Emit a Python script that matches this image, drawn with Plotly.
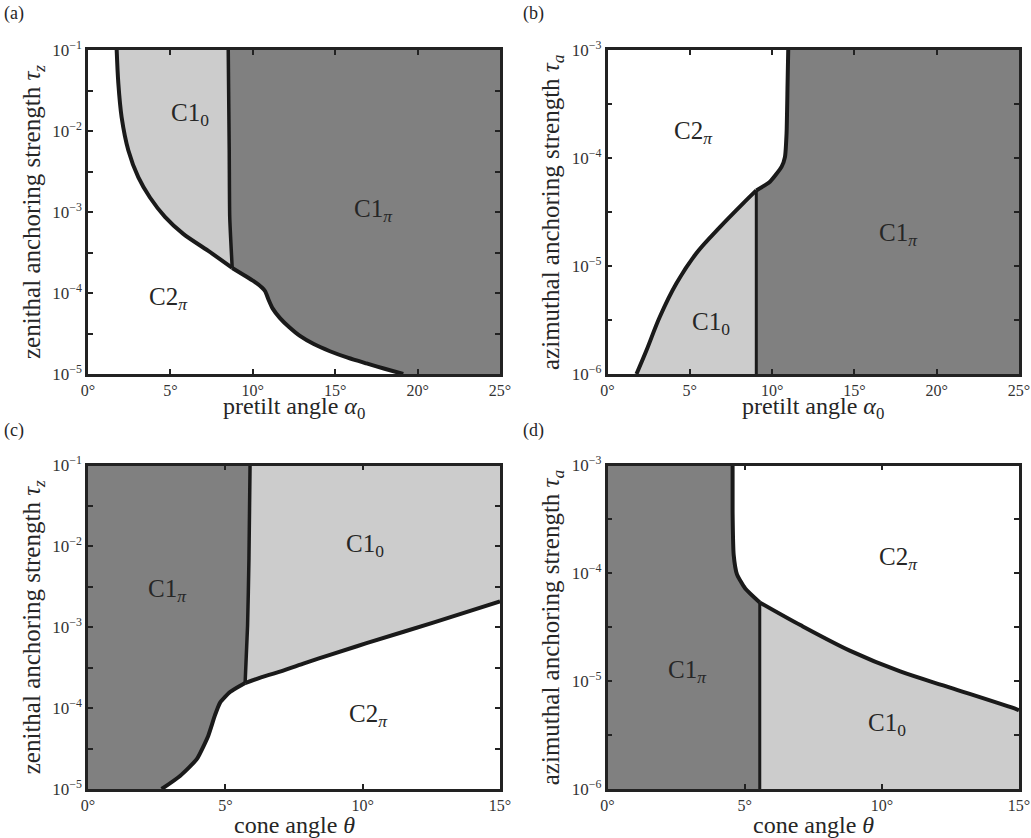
import plotly.graph_objects as go

# ---------------- data ----------------
# Panel (a): pretilt angle vs zenithal anchoring strength
a_c2_c10_x = [1.74, 1.84, 2.04, 2.45, 3.05, 3.76, 4.67, 5.78, 7.30, 8.75]
a_c2_c10_y = [1.0e-1, 3.89e-2, 1.48e-2, 5.75e-3, 2.69e-3, 1.51e-3, 8.71e-4, 5.37e-4, 3.31e-4, 2.04e-4]
a_c10_c1p_x = [8.51, 8.57, 8.60, 8.75]
a_c10_c1p_y = [1.0e-1, 5.75e-3, 8.71e-4, 2.04e-4]
a_c2_c1p_x = [8.75, 10.03, 10.55, 10.75, 10.95, 11.20, 11.65, 12.20, 12.86, 13.70, 14.68, 15.80,
              16.90, 18.00, 19.13]
a_c2_c1p_y = [2.04e-4, 1.41e-4, 1.17e-4, 1.05e-4, 8.32e-5, 6.46e-5, 4.90e-5, 3.80e-5, 2.95e-5,
              2.34e-5, 1.91e-5, 1.58e-5, 1.35e-5, 1.16e-5, 1.0e-5]

# Panel (b): pretilt angle vs azimuthal anchoring strength
b_c2_c10_x = [1.76, 2.37, 3.18, 4.19, 5.41, 6.83, 8.24, 9.04]
b_c2_c10_y = [1.0e-6, 1.66e-6, 3.39e-6, 6.92e-6, 1.32e-5, 2.29e-5, 3.80e-5, 5.01e-5]
b_c2_c1p_x = [9.04, 9.87, 10.58, 10.78, 10.88, 10.94, 10.98]
b_c2_c1p_y = [5.01e-5, 6.03e-5, 8.32e-5, 1.02e-4, 1.70e-4, 4.90e-4, 1.0e-3]
b_c10_c1p_x = [9.04, 9.04]
b_c10_c1p_y = [5.01e-5, 1.0e-6]

# Panel (c): cone angle vs zenithal anchoring strength
c_c1p_c10_x = [5.90, 5.86, 5.81, 5.72]
c_c1p_c10_y = [1.0e-1, 7.08e-3, 1.05e-3, 2.04e-4]
c_c1p_c2_x = [2.68, 3.35, 3.96, 4.38, 4.62, 4.81, 5.17, 5.72]
c_c1p_c2_y = [1.0e-5, 1.45e-5, 2.34e-5, 4.57e-5, 8.13e-5, 1.17e-4, 1.58e-4, 2.04e-4]
c_c10_c2_x = [5.72, 6.30, 6.87, 7.84, 8.81, 10.14, 12.57, 15.0]
c_c10_c2_y = [2.04e-4, 2.40e-4, 2.75e-4, 3.56e-4, 4.56e-4, 6.35e-4, 1.14e-3, 2.09e-3]

# Panel (d): cone angle vs azimuthal anchoring strength
d_c1p_c2_x = [4.56, 4.56, 4.60, 4.72, 5.02, 5.55]
d_c1p_c2_y = [1.0e-3, 3.72e-4, 1.48e-4, 9.77e-5, 7.24e-5, 5.37e-5]
d_c10_c2_x = [5.55, 7.03, 8.85, 10.67, 12.49, 14.90, 15.0]
d_c10_c2_y = [5.37e-5, 3.31e-5, 1.91e-5, 1.23e-5, 8.71e-6, 5.50e-6, 5.37e-6]
d_c1p_c10_x = [5.55, 5.55]
d_c1p_c10_y = [5.37e-5, 1.0e-6]

# axis extents
a_xmax, c_xmax = 25, 15
tz_range = [1e-5, 1e-1]
ta_range = [1e-6, 1e-3]

# region labels: (panel, text, x, log10 y)
labels = [
    ("a", "C1<sub>0</sub>", 6.2, -1.80),
    ("a", "C1<sub><i>π</i></sub>", 17.3, -2.98),
    ("a", "C2<sub><i>π</i></sub>", 4.9, -4.07),
    ("b", "C2<sub><i>π</i></sub>", 5.2, -3.76),
    ("b", "C1<sub><i>π</i></sub>", 17.7, -4.71),
    ("b", "C1<sub>0</sub>", 6.3, -5.53),
    ("c", "C1<sub><i>π</i></sub>", 2.9, -2.55),
    ("c", "C1<sub>0</sub>", 10.1, -1.99),
    ("c", "C2<sub><i>π</i></sub>", 10.2, -4.09),
    ("d", "C2<sub><i>π</i></sub>", 10.6, -3.86),
    ("d", "C1<sub><i>π</i></sub>", 2.9, -4.91),
    ("d", "C1<sub>0</sub>", 10.2, -5.40),
]

# ---------------- styling ----------------
DARK = "#808080"
LIGHT = "#cccccc"
LINE = "#1a1a1a"
FONT = "Liberation Serif"
TXT = "#262626"

axes = {"a": ("x", "y"), "b": ("x2", "y2"), "c": ("x3", "y3"), "d": ("x4", "y4")}

fig = go.Figure()


def fill(panel, xs, ys, color):
    xa, ya = axes[panel]
    fig.add_trace(go.Scatter(x=xs, y=ys, mode="lines", fill="toself", fillcolor=color,
                             line=dict(width=0, color=color), hoverinfo="skip",
                             showlegend=False, xaxis=xa, yaxis=ya))


def line(panel, xs, ys, w=4, sm=0.5):
    xa, ya = axes[panel]
    fig.add_trace(go.Scatter(x=xs, y=ys, mode="lines",
                             line=dict(width=w, color=LINE, shape="spline", smoothing=sm),
                             hoverinfo="skip", showlegend=False, xaxis=xa, yaxis=ya))


# (a)
fill("a", a_c2_c10_x + a_c10_c1p_x[::-1], a_c2_c10_y + a_c10_c1p_y[::-1], LIGHT)
fill("a", a_c10_c1p_x + a_c2_c1p_x + [a_xmax, a_xmax],
     a_c10_c1p_y + a_c2_c1p_y + [tz_range[0], tz_range[1]], DARK)
line("a", a_c2_c10_x, a_c2_c10_y, sm=0.9)
line("a", a_c10_c1p_x, a_c10_c1p_y, 3.5)
line("a", a_c2_c1p_x, a_c2_c1p_y)

# (b)
fill("b", b_c2_c10_x + b_c10_c1p_x[::-1][:1], b_c2_c10_y + b_c10_c1p_y[::-1][:1], LIGHT)
fill("b", b_c10_c1p_x[::-1] + b_c2_c1p_x + [a_xmax, a_xmax],
     b_c10_c1p_y[::-1] + b_c2_c1p_y + [ta_range[1], ta_range[0]], DARK)
line("b", b_c2_c10_x, b_c2_c10_y, sm=1.0)
line("b", b_c2_c1p_x, b_c2_c1p_y)
line("b", b_c10_c1p_x, b_c10_c1p_y, 3)

# (c)
fill("c", [0] + c_c1p_c10_x + c_c1p_c2_x[::-1] + [0],
     [tz_range[1]] + c_c1p_c10_y + c_c1p_c2_y[::-1] + [tz_range[0]], DARK)
fill("c", c_c1p_c10_x + c_c10_c2_x + [c_xmax],
     c_c1p_c10_y + c_c10_c2_y + [tz_range[1]], LIGHT)
line("c", c_c1p_c10_x, c_c1p_c10_y, 3.5)
line("c", c_c1p_c2_x, c_c1p_c2_y)
line("c", c_c10_c2_x, c_c10_c2_y, sm=0.9)

# (d)
fill("d", [0] + d_c1p_c2_x + d_c1p_c10_x[1:] + [0],
     [ta_range[1]] + d_c1p_c2_y + d_c1p_c10_y[1:] + [ta_range[0]], DARK)
fill("d", d_c1p_c10_x[::-1] + d_c10_c2_x + [c_xmax],
     d_c1p_c10_y[::-1] + d_c10_c2_y + [ta_range[0]], LIGHT)
line("d", d_c1p_c2_x, d_c1p_c2_y)
line("d", d_c10_c2_x, d_c10_c2_y, sm=0.9)
line("d", d_c1p_c10_x, d_c1p_c10_y, 3)


def sup(e):
    return "10<sup>\u2212%d</sup>" % e


def ytick_cfg(lo, hi):
    vals, text = [], []
    for e in range(lo, hi + 1):
        vals.append(10.0 ** (-e))
        text.append(sup(e))
        if e < hi:
            vals.append(10.0 ** (-e - 0.5))
            text.append("")
    return vals, text


W, H = 1031, 838


def px(v):
    return v / W


def py(v):
    return 1 - v / H


left_dom = [px(88), px(500)]
right_dom = [px(607.5), px(1019)]
top_dom = [py(374), py(50)]
bot_dom = [py(789), py(465.5)]

common_axis = dict(showline=True, linecolor="#222222", linewidth=2.5, mirror="ticks",
                   ticks="inside", ticklen=5, tickwidth=1.5, tickcolor="#222222",
                   showgrid=False, zeroline=False, automargin=False)

layout = dict(width=W, height=H, margin=dict(l=0, r=0, t=0, b=0, autoexpand=False),
              paper_bgcolor="white", plot_bgcolor="white", showlegend=False,
              font=dict(family=FONT, color=TXT))

specs = {
    "": (left_dom, top_dom, a_xmax, (1, 5), "y", "x"),
    "2": (right_dom, top_dom, a_xmax, (3, 6), "y2", "x2"),
    "3": (left_dom, bot_dom, c_xmax, (1, 5), "y3", "x3"),
    "4": (right_dom, bot_dom, c_xmax, (3, 6), "y4", "x4"),
}
for k, (xd, yd, xmax, (lo, hi), ya, xa) in specs.items():
    tv, tt = ytick_cfg(lo, hi)
    layout["xaxis" + k] = dict(common_axis, domain=xd, range=[0, xmax], dtick=5, tick0=0,
                               ticksuffix="°", anchor=ya,
                               tickfont=dict(family=FONT, size=16, color="#333333"))
    layout["yaxis" + k] = dict(common_axis, domain=yd, type="log", range=[-hi, -lo],
                               tickvals=tv, ticktext=tt, anchor=xa,
                               tickfont=dict(family=FONT, size=17, color="#333333"))

fig.update_layout(**layout)

ann = []
for panel, text, x, ly in labels:
    xa, ya = axes[panel]
    ann.append(dict(x=x, y=ly, xref=xa, yref=ya, text=text, showarrow=False,
                    font=dict(family=FONT, size=25, color=TXT)))

xt_a = "pretilt angle <i>α</i><sub>0</sub>"
xt_c = "cone angle <i>θ</i>"
yt_z = "zenithal anchoring strength <i>τ</i><sub><i>z</i></sub>"
yt_a = "azimuthal anchoring strength <i>τ</i><sub><i>a</i></sub>"
title_font = dict(family=FONT, size=24, color=TXT)
for dom, yy, t in [(left_dom, py(408), xt_a), (right_dom, py(408), xt_a),
                   (left_dom, py(825), xt_c), (right_dom, py(825), xt_c)]:
    ann.append(dict(x=(dom[0] + dom[1]) / 2, y=yy, xref="paper", yref="paper", text=t,
                    showarrow=False, font=title_font, xanchor="center", yanchor="middle"))
for xx, dom, t in [(px(33), top_dom, yt_z), (px(552), top_dom, yt_a),
                   (px(33), bot_dom, yt_z), (px(552), bot_dom, yt_a)]:
    ann.append(dict(x=xx, y=(dom[0] + dom[1]) / 2, xref="paper", yref="paper", text=t,
                    textangle=-90, showarrow=False, font=dict(family=FONT, size=25, color=TXT),
                    xanchor="center", yanchor="middle"))
for t, xx, yy in [("(a)", px(14), py(13)), ("(b)", px(533), py(13)),
                  ("(c)", px(14), py(430)), ("(d)", px(533), py(430))]:
    ann.append(dict(x=xx, y=yy, xref="paper", yref="paper", text=t, showarrow=False,
                    font=dict(family=FONT, size=18, color=TXT),
                    xanchor="center", yanchor="middle"))

fig.update_layout(annotations=ann)
# remove the browser's default page margin so the figure starts at the window corner
fig.write_html("out.html", config={"displayModeBar": False},
               post_script="document.body.style.margin='0';document.body.style.overflow='hidden';")
